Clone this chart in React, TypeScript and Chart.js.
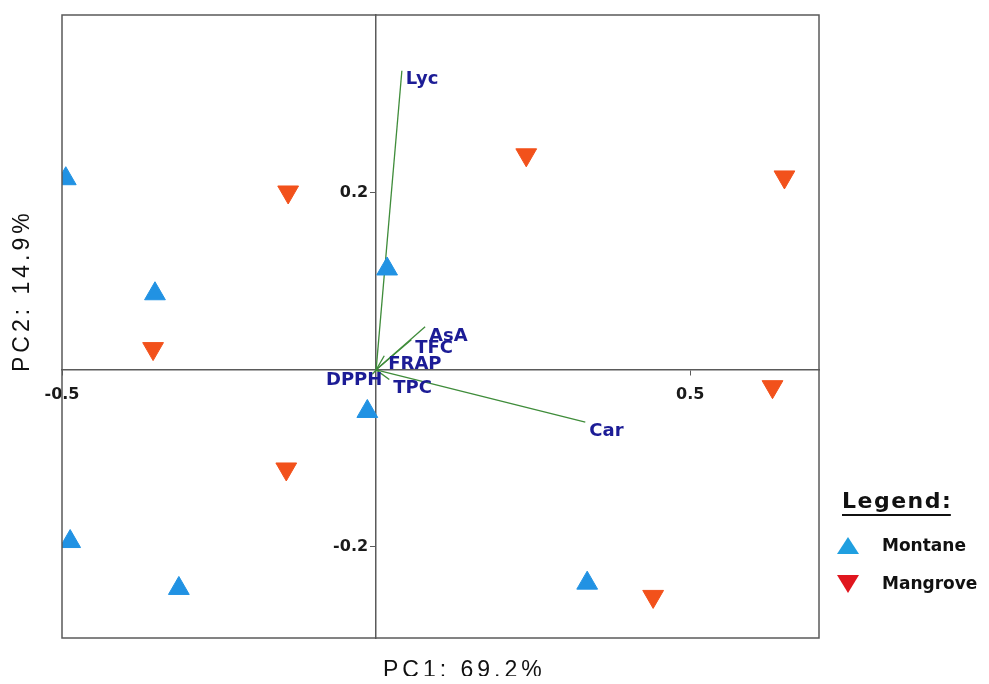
import React, { useEffect, useRef } from 'react';
import { Chart, registerables } from 'chart.js';

Chart.register(...registerables);

// ---- data ----
const groups = ['Montane', 'Mangrove'];
const montanePC1 = [-0.494, -0.352, 0.0175, -0.014, -0.487, -0.314, 0.336];
const montanePC2 = [0.216, 0.086, 0.114, -0.047, -0.194, -0.247, -0.241];
const mangrovePC1 = [-0.14, 0.239, 0.65, -0.355, -0.143, 0.631, 0.441];
const mangrovePC2 = [0.201, 0.243, 0.218, 0.024, -0.112, -0.019, -0.256];
const variables = ['Lyc', 'AsA', 'TFC', 'FRAP', 'DPPH', 'TPC', 'Car'];
const loadingPC1 = [0.041, 0.078, 0.056, 0.013, -0.006, 0.021, 0.333];
const loadingPC2 = [0.338, 0.0486, 0.034, 0.016, -0.005, -0.011, -0.059];
const xTicks = [-0.5, 0.5];
const yTicks = [-0.2, 0.2];
const xRange = [-0.5, 0.705];
const yRange = [-0.303, 0.401];
const axisTitles = ['PC1: 69.2%', 'PC2: 14.9%'];
const legendTitle = 'Legend:';

const BLUE = '#2192e3';
const RED = '#f2511b';
const LEG_BLUE = '#1f9fe0';
const LEG_RED = '#e0161e';
const GREEN = '#3f8c3a';
const LABEL = '#1c1c96';
const AXIS = '#5a5a5a';

const overlay = {
  id: 'overlay',
  afterDatasetsDraw(chart: any) {
    const { ctx, chartArea: a, scales } = chart;
    ctx.save();
    ctx.strokeStyle = AXIS;
    ctx.lineWidth = 1.5;
    ctx.strokeRect(a.left, a.top, a.right - a.left, a.bottom - a.top);

    ctx.font = 'bold 18px "DejaVu Sans"';
    ctx.fillStyle = LABEL;
    ctx.textBaseline = 'middle';
    variables.forEach((name, i) => {
      const px = scales.x.getPixelForValue(loadingPC1[i]);
      const py = scales.y.getPixelForValue(loadingPC2[i]);
      if (loadingPC1[i] < 0) {
        ctx.textAlign = 'right';
        ctx.fillText(name, px + 10, py + 6);
      } else {
        ctx.textAlign = 'left';
        ctx.fillText(name, px + 4, py + 9);
      }
    });
    ctx.restore();
  },
  afterDraw(chart: any) {
    const { ctx } = chart;
    ctx.save();
    // axis titles
    ctx.fillStyle = '#111';
    ctx.font = '23px "Liberation Sans"';
    (ctx as any).letterSpacing = '4px';
    ctx.textAlign = 'left';
    ctx.textBaseline = 'middle';
    ctx.fillText(axisTitles[0], 375, 663);
    ctx.save();
    ctx.translate(15, 364);
    ctx.rotate(-Math.PI / 2);
    ctx.fillText(axisTitles[1], 0, 0);
    ctx.restore();

    // legend
    (ctx as any).letterSpacing = '1.5px';
    ctx.font = 'bold 22px "DejaVu Sans"';
    ctx.fillStyle = '#111';
    ctx.fillText(legendTitle, 834, 494);
    const w = ctx.measureText(legendTitle).width - 1.5;
    ctx.fillRect(834, 506, w, 2);
    (ctx as any).letterSpacing = '0px';

    ctx.font = 'bold 17px "DejaVu Sans"';
    ctx.fillStyle = LEG_BLUE;
    ctx.beginPath();
    ctx.moveTo(840, 529);
    ctx.lineTo(851, 546);
    ctx.lineTo(829, 546);
    ctx.closePath();
    ctx.fill();
    ctx.fillStyle = LEG_RED;
    ctx.beginPath();
    ctx.moveTo(829, 567);
    ctx.lineTo(851, 567);
    ctx.lineTo(840, 585);
    ctx.closePath();
    ctx.fill();
    ctx.fillStyle = '#111';
    ctx.fillText(groups[0], 874, 539);
    ctx.fillText(groups[1], 874, 577);
    ctx.restore();
  },
};

const noPad = (s: any) => {
  s.paddingTop = 0;
  s.paddingBottom = 0;
  s.paddingLeft = 0;
  s.paddingRight = 0;
};

export default function App() {
  const ref = useRef<HTMLCanvasElement>(null);
  useEffect(() => {
    if (!ref.current) return;
    const vectorSets = variables.map((name, i) => ({
      label: name,
      data: [
        { x: 0, y: 0 },
        { x: loadingPC1[i], y: loadingPC2[i] },
      ],
      showLine: true,
      borderColor: GREEN,
      borderWidth: 1.3,
      pointRadius: 0,
      order: 3,
    }));
    const chart = new Chart(ref.current, {
      type: 'scatter',
      data: {
        datasets: [
          ...vectorSets,
          {
            label: groups[0],
            data: montanePC1.map((x, i) => ({ x, y: montanePC2[i] })),
            pointStyle: 'triangle',
            pointRadius: 12,
            backgroundColor: BLUE,
            borderColor: BLUE,
            borderWidth: 1,
            order: 1,
          },
          {
            label: groups[1],
            data: mangrovePC1.map((x, i) => ({ x, y: mangrovePC2[i] })),
            pointStyle: 'triangle',
            rotation: 180,
            pointRadius: 12,
            backgroundColor: RED,
            borderColor: RED,
            borderWidth: 1,
            order: 2,
          },
        ],
      } as any,
      options: {
        animation: false,
        responsive: true,
        maintainAspectRatio: false,
        layout: { autoPadding: false, padding: { left: 54, top: 7, right: 162, bottom: 38 } },
        plugins: { legend: { display: false }, tooltip: { enabled: false } },
        scales: {
          x: {
            type: 'linear',
            position: { y: 0 } as any,
            min: xRange[0],
            max: xRange[1],
            afterBuildTicks: (s: any) => {
              s.ticks = xTicks.map((v) => ({ value: v }));
            },
            afterFit: noPad,
            ticks: {
              callback: (v: any) => String(v),
              font: { family: '"DejaVu Sans"', size: 16, weight: 'bold' },
              color: '#1a1a1a',
              padding: 10,
            },
            grid: { display: true, drawOnChartArea: false, drawTicks: true, tickLength: 5, color: AXIS },
            border: { display: true, color: AXIS, width: 1.5 },
          },
          y: {
            type: 'linear',
            position: { x: 0 } as any,
            min: yRange[0],
            max: yRange[1],
            afterBuildTicks: (s: any) => {
              s.ticks = yTicks.map((v) => ({ value: v }));
            },
            afterFit: noPad,
            ticks: {
              callback: (v: any) => String(v) + '\u2002',
              font: { family: '"DejaVu Sans"', size: 16, weight: 'bold' },
              color: '#1a1a1a',
              padding: 4,
            },
            grid: { display: true, drawOnChartArea: false, drawTicks: true, tickLength: 5, color: AXIS },
            border: { display: true, color: AXIS, width: 1.5 },
          },
        },
      } as any,
      plugins: [overlay],
    });
    return () => chart.destroy();
  }, []);
  return (
    <div style={{ position: 'relative', width: 973, height: 668 }}>
      <canvas ref={ref} />
    </div>
  );
}
